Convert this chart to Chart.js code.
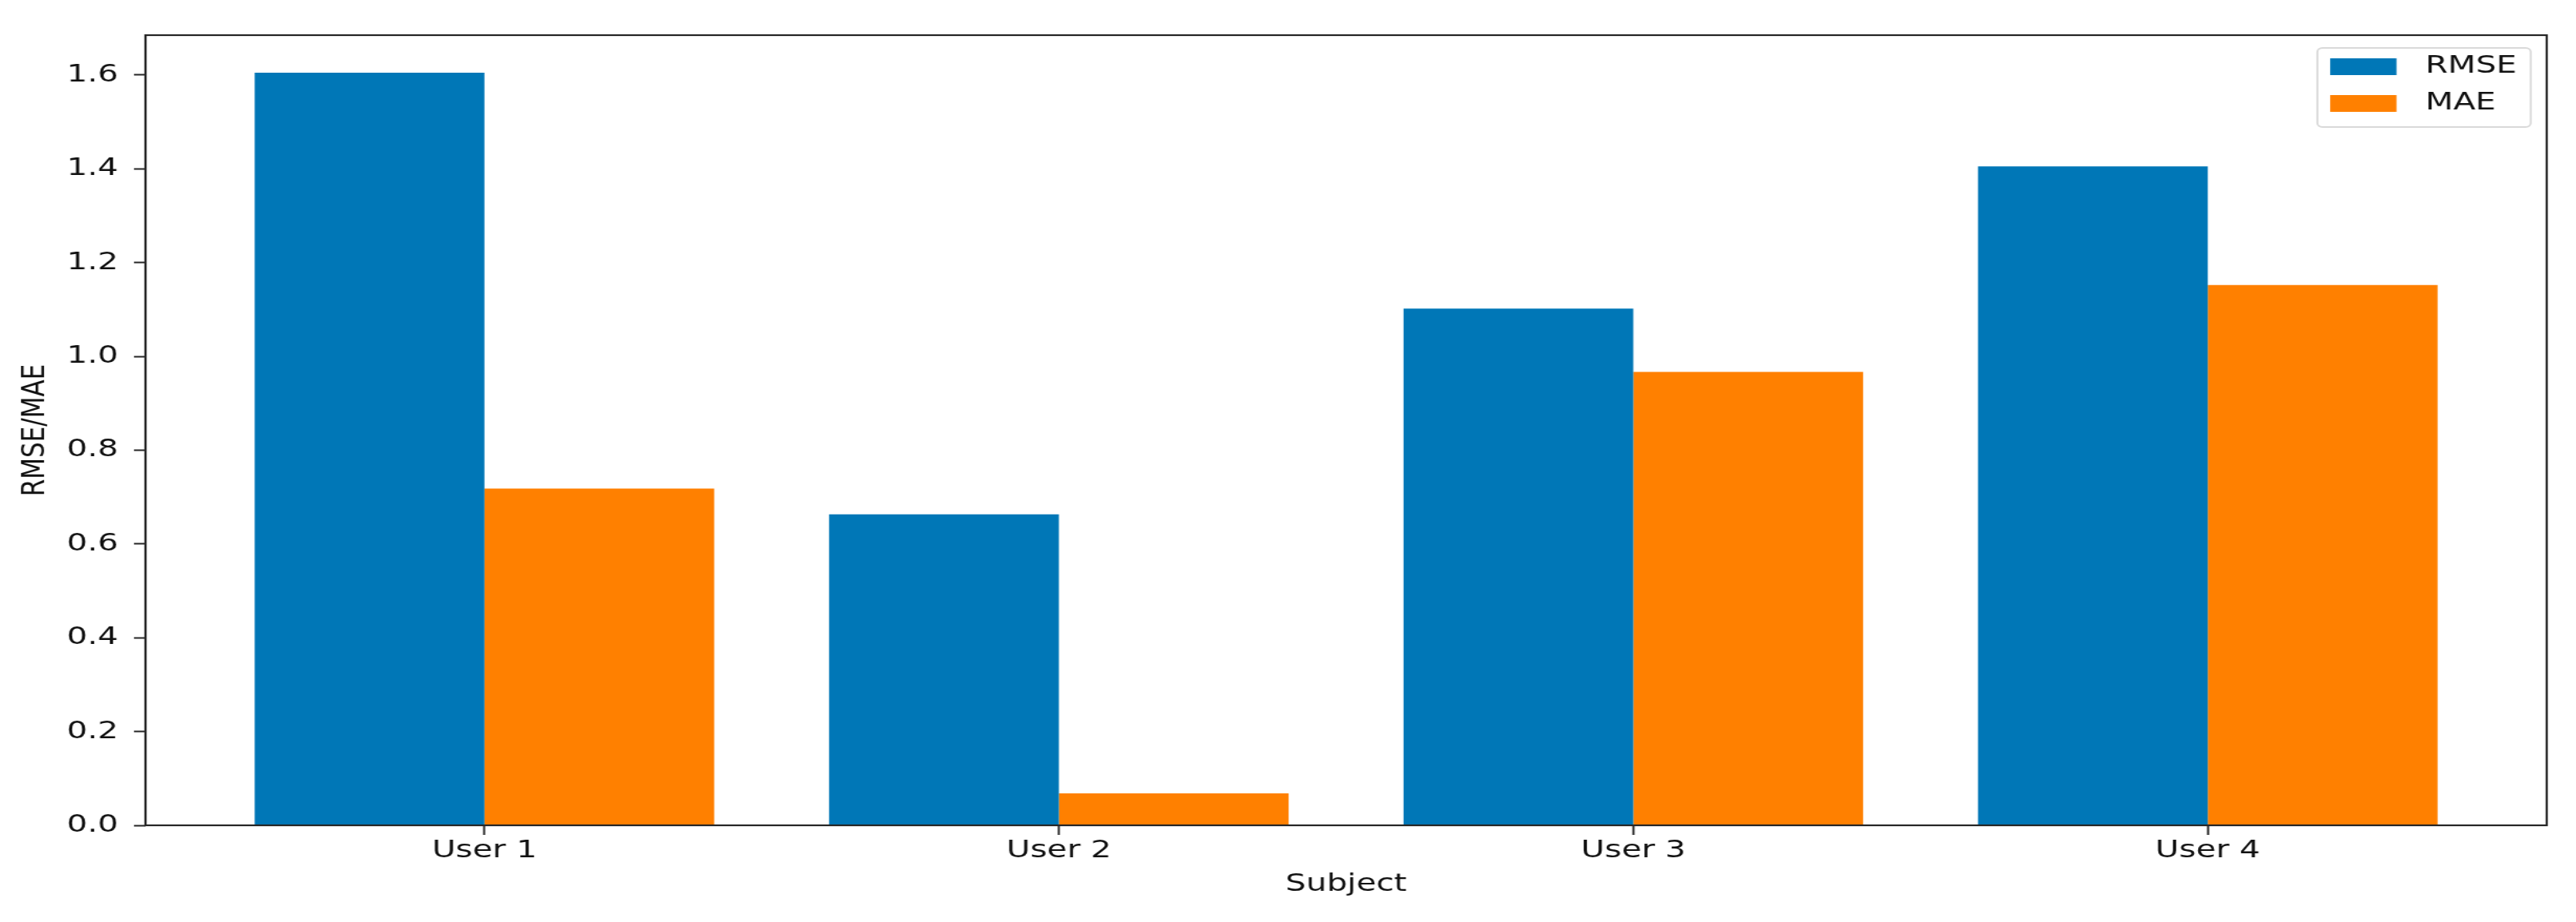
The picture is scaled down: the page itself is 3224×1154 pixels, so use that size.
<!DOCTYPE html>
<html>
<head>
<meta charset="utf-8">
<script src="https://cdn.jsdelivr.net/npm/chart.js@4.4.1/dist/chart.umd.min.js"></script>
<style>
  html, body { margin: 0; padding: 0; background: #ffffff; overflow: hidden; width: 3224px; height: 1154px; }
  #wrap { width: 2461px; height: 1154px; transform: scaleX(1.31004); transform-origin: 0 0; }
  canvas { display: block; }
</style>
</head>
<body>
<div id="wrap"><canvas id="c" width="2461" height="1154"></canvas></div>
<script>
// ---- data ----
const subjects = ['User 1', 'User 2', 'User 3', 'User 4'];
const rmseValues = [1.605, 0.663, 1.102, 1.405];
const maeValues = [0.718, 0.068, 0.967, 1.152];
const yTickValues = [0.0, 0.2, 0.4, 0.6, 0.8, 1.0, 1.2, 1.4, 1.6];
const seriesNames = ['RMSE', 'MAE'];
const seriesColors = ['#0077b7', '#ff8000'];
const xAxisTitle = 'Subject';
const yAxisTitle = 'RMSE/MAE';

const FONT = '"DejaVu Sans", sans-serif';
const TEXT = '#111111';
const LINE = '#262626';

const toPoints = vals => vals.map((v, i) => ({ x: i, y: v }));

const framePlugin = {
  id: 'frameAndLegend',
  afterDraw(chart) {
    const { ctx, chartArea: a } = chart;
    ctx.save();
    // frame (all four spines)
    ctx.strokeStyle = LINE;
    ctx.lineWidth = 2.2;
    ctx.strokeRect(a.left, a.top, a.right - a.left, a.bottom - a.top);

    // legend box
    const bw = 203.8, bh = 99;
    const bx = a.right - 15.3 - bw, by = a.top + 16;
    ctx.beginPath();
    ctx.roundRect(bx, by, bw, bh, 5);
    ctx.fillStyle = 'rgba(255,255,255,0.8)';
    ctx.fill();
    ctx.strokeStyle = '#d9d9d9';
    ctx.lineWidth = 2;
    ctx.stroke();

    const rowsPatch = [13, 59];
    const rowsText = [22.5, 68.5];
    chart.data.datasets.forEach((ds, i) => {
      ctx.fillStyle = ds.backgroundColor;
      ctx.fillRect(bx + 12.2, by + rowsPatch[i], 63.4, 21);
      ctx.fillStyle = TEXT;
      ctx.font = '31px ' + FONT;
      ctx.textAlign = 'left';
      ctx.textBaseline = 'middle';
      ctx.fillText(ds.label, bx + 103, by + rowsText[i]);
    });
    ctx.restore();
  }
};

new Chart(document.getElementById('c'), {
  type: 'bar',
  data: {
    datasets: [
      { label: seriesNames[0], data: toPoints(rmseValues), backgroundColor: seriesColors[0], borderWidth: 0 },
      { label: seriesNames[1], data: toPoints(maeValues), backgroundColor: seriesColors[1], borderWidth: 0 }
    ]
  },
  options: {
    responsive: false,
    animation: false,
    devicePixelRatio: 1,
    categoryPercentage: 0.8,
    barPercentage: 1.0,
    layout: { padding: { left: 0, right: 28, top: 44, bottom: 0 } },
    plugins: {
      legend: { display: false },
      tooltip: { enabled: false }
    },
    scales: {
      x: {
        type: 'linear',
        min: -0.59,
        max: subjects.length - 1 + 0.59,
        offset: false,
        grid: { display: true, offset: false, drawOnChartArea: false, drawTicks: true, tickLength: 12, tickWidth: 2, tickColor: LINE },
        border: { display: false },
        afterBuildTicks: s => { s.ticks = subjects.map((_, i) => ({ value: i })); },
        afterFit: s => { s.height = 121; },
        ticks: {
          padding: 1,
          color: TEXT,
          font: { family: FONT, size: 31 },
          maxRotation: 0,
          autoSkip: false,
          callback: v => subjects[v] ?? ''
        },
        title: {
          display: true,
          text: xAxisTitle,
          color: TEXT,
          font: { family: FONT, size: 31 },
          padding: { top: 0, bottom: 28 }
        }
      },
      y: {
        type: 'linear',
        min: 0,
        max: 1.685,
        grid: { display: true, drawOnChartArea: false, drawTicks: true, tickLength: 11, tickWidth: 2, tickColor: LINE },
        border: { display: false },
        afterBuildTicks: s => { s.ticks = yTickValues.map(v => ({ value: v })); },
        afterFit: s => { s.width = 139; },
        ticks: {
          padding: 15,
          color: TEXT,
          font: { family: FONT, size: 31 },
          autoSkip: false,
          callback: v => Number(v).toFixed(1)
        },
        title: {
          display: true,
          text: yAxisTitle,
          color: TEXT,
          font: { family: FONT, size: 31 },
          padding: { top: 15, bottom: 0 }
        }
      }
    }
  },
  plugins: [framePlugin]
});
</script>
</body>
</html>
